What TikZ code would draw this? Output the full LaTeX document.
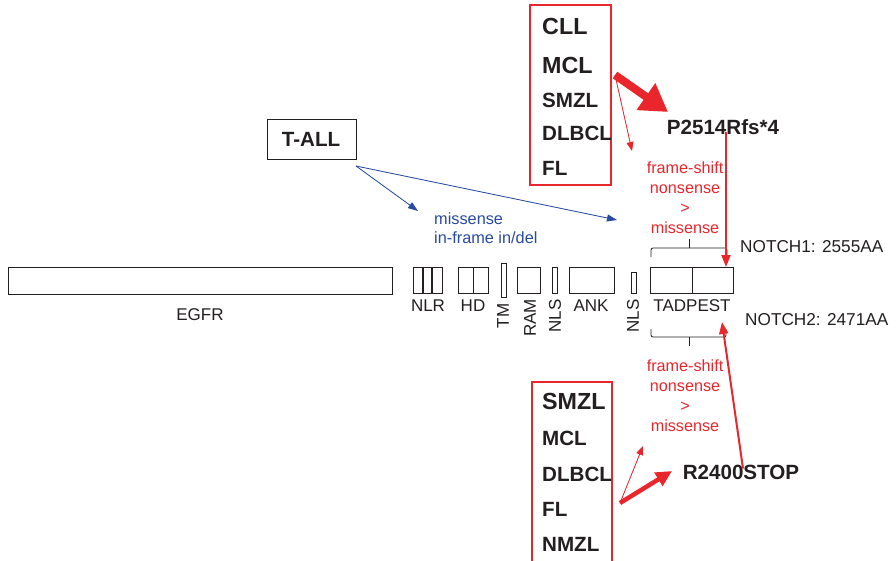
\documentclass[tikz,border=0pt]{standalone}
\usepackage{fontspec}
\setmainfont{Liberation Sans}
\usetikzlibrary{arrows.meta}
\definecolor{myred}{RGB}{232,38,43}
\definecolor{myblue}{RGB}{40,75,160}
\definecolor{ink}{RGB}{35,31,32}
\begin{document}
\begin{tikzpicture}[x=1pt,y=-1pt,
  dom/.style={draw=ink, line width=1.2pt, inner sep=0pt, anchor=north west},
  lbl/.style={text=ink, font=\fontsize{17}{18}\selectfont, inner sep=0pt},
  rlbl/.style={lbl, rotate=90},
  bold/.style={text=ink, font=\fontsize{20.6}{22}\selectfont\bfseries, inner sep=0pt},
  bigbold/.style={text=ink, font=\fontsize{23.3}{25}\selectfont\bfseries, inner sep=0pt},
  redtxt/.style={text=myred, font=\fontsize{16.2}{20}\selectfont, align=center, inner sep=0pt},
  bluetxt/.style={text=myblue, font=\fontsize{16.3}{19}\selectfont, align=left, inner sep=0pt, anchor=north west},
  redframe/.style={draw=myred, line width=1.5pt},
  thinred/.style={draw=myred, line width=0.8pt, -{Triangle[length=9pt,width=7pt]}, fill=myred},
  thinblue/.style={draw=myblue, line width=0.8pt, -{Triangle[length=10pt,width=7pt]}, fill=myblue},
  midred/.style={draw=myred, line width=2pt, -{Triangle[length=12pt,width=9pt]}, fill=myred},
  fatred/.style={draw=myred, line width=8pt, -{Triangle[length=27pt,width=31pt]}, fill=myred},
  fatred2/.style={draw=myred, line width=4.5pt, -{Triangle[length=16pt,width=15pt]}, fill=myred},
  bracket/.style={draw=ink, line width=0.8pt, rounded corners=2pt}
]
\useasboundingbox (0,0) rectangle (896,561);

% domains
\node[dom, minimum width=384pt, minimum height=27pt] (egfr) at (8,267) {};
\node[dom, minimum width=29pt, minimum height=26pt] (nlr) at (413,267) {};
\draw[ink, line width=1.2pt] ([xshift=10pt]nlr.north west) -- ([xshift=10pt]nlr.south west);
\draw[ink, line width=1.2pt] ([xshift=19pt]nlr.north west) -- ([xshift=19pt]nlr.south west);
\node[dom, minimum width=30pt, minimum height=26pt] (hd) at (458,267) {};
\draw[ink, line width=1.2pt] (hd.north) -- (hd.south);
\node[dom, minimum width=5pt, minimum height=34pt] (tm) at (501,263) {};
\node[dom, minimum width=23pt, minimum height=26pt] (ram) at (517,267) {};
\node[dom, minimum width=5pt, minimum height=26pt] (nls1) at (552,267) {};
\node[dom, minimum width=45pt, minimum height=26pt] (ank) at (569,267) {};
\node[dom, minimum width=5pt, minimum height=21pt] (nls2) at (631,272) {};
\node[dom, minimum width=83pt, minimum height=26pt] (tad) at (650,267) {};
\draw[ink, line width=1.2pt] (tad.north) -- (tad.south);

% domain labels
\node[lbl] (legfr) at (200,315) {EGFR};
\node[lbl] (lnlr) at (428,306) {NLR};
\node[lbl] (lhd) at (473,306) {HD};
\node[rlbl] (ltm) at (503,316) {TM};
\node[rlbl] (lram) at (530,318) {RAM};
\node[rlbl] (lnls1) at (555,316) {NLS};
\node[lbl] (lank) at (591,306) {ANK};
\node[rlbl] (lnls2) at (633,316) {NLS};
\node[lbl] (ltad) at (692,306) {TADPEST};

% NOTCH labels
\node[lbl, anchor=west, font=\fontsize{17.2}{18}\selectfont] (n1) at (740,247) {NOTCH1: 2555AA};
\node[lbl, anchor=west, font=\fontsize{17.2}{18}\selectfont] (n2) at (745,320) {NOTCH2: 2471AA};

% brackets
\draw[bracket] (651,257) -- (651,248) -- (727,248) -- (727,257);
\draw[ink, line width=0.8pt] (689,248) -- (689,239);
\draw[bracket] (651,329) -- (651,337) -- (726,337) -- (726,329);
\draw[ink, line width=0.8pt] (689,337) -- (689,346);

% red text
\node[redtxt] (rt1) at (685,198) {frame-shift\\nonsense\\>\\missense};
\node[redtxt] (rt2) at (685,396) {frame-shift\\nonsense\\>\\missense};

% T-ALL
\node[draw=ink, line width=1.2pt, minimum width=89pt, minimum height=40pt, inner sep=0pt, anchor=north west] (tall) at (267,119) {};
\node[bold] (talltxt) at (311,139) {T-ALL};
\node[bluetxt] (bt) at (434,212) {missense\\in-frame in/del};
\coordinate (tallsrc) at (356,166);
\coordinate (btip1) at (418,211);
\coordinate (btip2) at (617,220);
\draw[thinblue] (tallsrc) -- (btip1);
\draw[thinblue] (tallsrc) -- (btip2);

% top red box
\draw[redframe] (530,5) rectangle (611,185);
\node[bigbold, anchor=west] (cll) at (542,26) {CLL};
\node[bigbold, anchor=west] (mcl1) at (542,65) {MCL};
\node[bold, anchor=west] (smzl1) at (542,100) {SMZL};
\node[bold, anchor=west] (dlbcl1) at (542,133) {DLBCL};
\node[bold, anchor=west] (fl1) at (542,168) {FL};
\node[bold] (p2514) at (723,127) {P2514Rfs*4};
\coordinate (topsrc) at (615,75);
\coordinate (toptip) at (668,112);
\coordinate (topthin) at (632,151);
\draw[fatred] (topsrc) -- (toptip);
\draw[thinred] (topsrc) -- (topthin);
\coordinate (t1) at (726,267);
\draw[midred] ([yshift=3pt]p2514.south -| t1) -- (t1);

% bottom red box
\draw[redframe] (532,565) -- (532,382) -- (612,382) -- (612,565);
\node[bigbold, anchor=west] (smzl2) at (542,401) {SMZL};
\node[bold, anchor=west] (mcl2) at (542,438) {MCL};
\node[bold, anchor=west] (dlbcl2) at (542,474) {DLBCL};
\node[bold, anchor=west] (fl2) at (542,509) {FL};
\node[bold, anchor=west] (nmzl) at (542,544) {NMZL};
\node[bold] (r2400) at (741,472) {R2400STOP};
\coordinate (botsrc) at (620,503);
\coordinate (bottip) at (672,471);
\coordinate (botthin) at (643,446);
\draw[fatred2] (botsrc) -- (bottip);
\draw[thinred] (botsrc) -- (botthin);
\coordinate (t2) at (722,322);
\draw[midred] ([xshift=2pt,yshift=-4pt]r2400.north) -- (t2);
\end{tikzpicture}
\end{document}
